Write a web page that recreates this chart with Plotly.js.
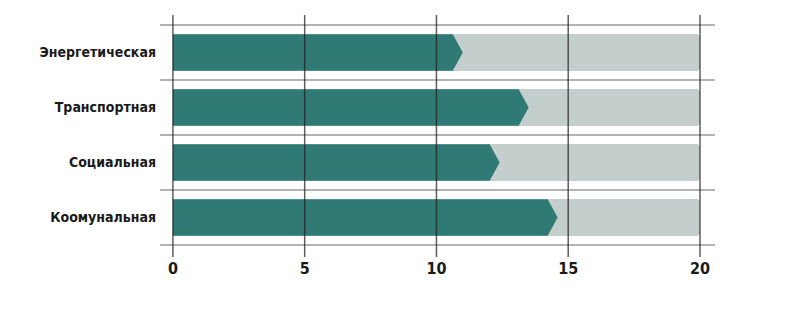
<!DOCTYPE html>
<html><head><meta charset="utf-8">
<script src="https://cdn.plot.ly/plotly-3.0.1.min.js"></script>
<style>html,body{margin:0;padding:0;background:#fff}#chart{width:786px;height:309px}</style>
</head><body><div id="chart"></div>
<script>
// Data (top to bottom)
const categories = ["Энергетическая", "Транспортная", "Социальная", "Коомунальная"];
const values = [11.0, 13.5, 12.4, 14.6];
const maxValues = [20, 20, 20, 20];
const xTicks = [0, 5, 10, 15, 20];

const TEAL = "#307a76";
const GREY = "#c4cfcd";
const BAR_W = 0.66;
const TIP = 0.38; // arrow tip length in axis units (style)

const idx = categories.map((_, i) => i);

// Arrow polygons for the value bars, built from values through the axis scales
const px = [], py = [];
values.forEach((v, i) => {
  const h = BAR_W / 2;
  px.push(0, v - TIP, v, v - TIP, 0, 0, null);
  py.push(i - h, i - h, i, i + h, i + h, i - h, null);
});

const traces = [
  {
    type: "bar", orientation: "h", x: maxValues, y: idx, width: BAR_W,
    marker: {color: GREY, cornerradius: 3, line: {width: 0}},
    hoverinfo: "skip", showlegend: false
  },
  {
    type: "scatter", mode: "lines", x: px, y: py, fill: "toself",
    fillcolor: TEAL, line: {width: 0, color: TEAL}, connectgaps: false,
    hoverinfo: "skip", showlegend: false
  }
];

const shapes = [];
xTicks.forEach(t => shapes.push({
  type: "line", xref: "x", yref: "paper", x0: t, x1: t, y0: 0, y1: 1,
  line: {color: "rgba(30,30,30,0.72)", width: 1.5}, layer: "above"
}));
for (let k = 0; k <= categories.length; k++) {
  shapes.push({
    type: "line", xref: "paper", yref: "y", x0: 0, x1: 1, y0: k - 0.5, y1: k - 0.5,
    line: {color: "#9a9a9a", width: 1.5}, layer: "below"
  });
}

const FONT = "'DejaVu Sans Condensed', 'Liberation Sans Narrow', sans-serif";
const layout = {
  width: 786, height: 309,
  margin: {l: 160, r: 71, t: 15, b: 52},
  paper_bgcolor: "#fff", plot_bgcolor: "#fff",
  showlegend: false,
  font: {family: FONT, size: 16, color: "#1a1a1a"},
  xaxis: {
    range: [-0.49, 20.57], tickvals: xTicks, ticktext: xTicks.map(String),
    showgrid: false, zeroline: false, showline: false, ticks: "",
    tickfont: {family: FONT, size: 16, color: "#1a1a1a", weight: "bold"},
    fixedrange: true
  },
  yaxis: {
    range: [3.718, -0.682], tickvals: idx, ticktext: categories,
    showgrid: false, zeroline: false, showline: false, ticks: "",
    tickfont: {family: FONT, size: 14, color: "#1a1a1a", weight: "bold"},
    ticklabelstandoff: 3, fixedrange: true
  },
  shapes: shapes,
  bargap: 0
};

Plotly.newPlot("chart", traces, layout, {displayModeBar: false, staticPlot: true});
</script></body></html>
